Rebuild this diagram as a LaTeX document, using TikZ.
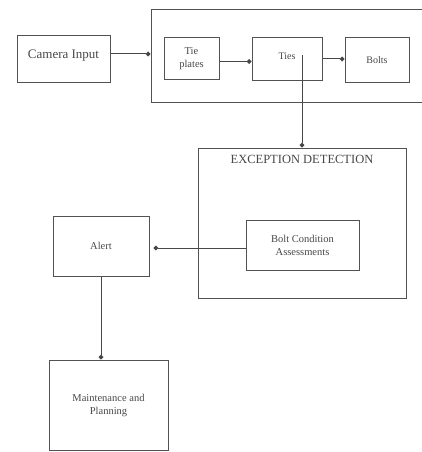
\documentclass[tikz,border=0pt]{standalone}
\usepackage{fontspec}
\setmainfont{Liberation Serif}
\usetikzlibrary{arrows.meta}

\begin{document}
\begin{tikzpicture}[x=1pt, y=-1pt, >={Circle[length=4.6pt]},
  box/.style={draw=black!68, line width=1pt, align=center, inner sep=2pt, font=\fontsize{10.5}{13}\selectfont, text=black!72},
  flow/.style={->, line width=1pt, draw=black!72},
  head/.style={anchor=north, inner sep=0pt, font=\fontsize{12.5}{14}\selectfont, text=black!72}]
\useasboundingbox (0,0) rectangle (421,452);
% ---- camera and the track parts
\node[box, minimum width=274pt, minimum height=92pt] (grp) at (288,56) {};
\node[box, minimum width=93pt, minimum height=46pt, text depth=10pt, font=\fontsize{13}{15}\selectfont] (cam) at (63.5,59) {Camera Input};
\node[box, minimum width=55pt, minimum height=41pt] (tie) at (191.5,58.5) {Tie\\plates};
\node[box, minimum width=70pt, minimum height=42pt, text depth=6pt, font=\fontsize{10}{12}\selectfont] (ties) at (287,59) {Ties};
\node[box, minimum width=64pt, minimum height=44pt, font=\fontsize{10}{12}\selectfont] (bolts) at (377,60) {Bolts};
\draw[flow] ([yshift=5pt]cam.east) -- ([yshift=5pt]cam.east -| grp.west);
\draw[flow] ([yshift=-3pt]tie.east) -- ([yshift=-3pt]tie.east -| ties.west);
\draw[flow] (ties.east) -- (ties.east -| bolts.west);
% ---- exception detection
\node[box, minimum width=208pt, minimum height=150pt] (exc) at (302,223) {};
\node[head] (exchead) at ([yshift=-8pt]exc.north) {EXCEPTION DETECTION};
\node[box, minimum width=113pt, minimum height=50pt] (bca) at (302.5,245) {Bolt Condition\\Assessments};
\draw[flow] ([yshift=4pt]ties.center -| exc.north) -- (exc.north);
% ---- alert and maintenance
\node[box, minimum width=96pt, minimum height=60pt] (alert) at (101,246) {Alert};
\node[box, minimum width=119pt, minimum height=90pt] (maint) at (108.5,405) {Maintenance and\\Planning};
\draw[flow, shorten >=4pt] ([yshift=-3pt]bca.west) -- ([yshift=-3pt]bca.west -| alert.east);
\draw[flow] (alert.south) -- (alert.south |- maint.north);
\end{tikzpicture}
\end{document}
